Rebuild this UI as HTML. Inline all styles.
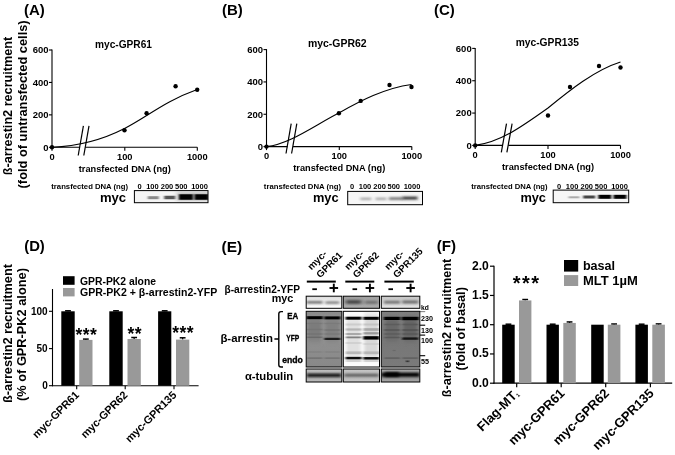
<!DOCTYPE html>
<html><head><meta charset="utf-8"><title>figure</title>
<style>
html,body{margin:0;padding:0;background:#fff;}
svg{display:block;font-family:"Liberation Sans",sans-serif;}
</style></head><body>
<svg width="675" height="455" viewBox="0 0 675 455">
<rect width="675" height="455" fill="#fff"/>
<defs><filter id="b1" x="-20%" y="-100%" width="140%" height="300%"><feGaussianBlur stdDeviation="0.9 0.55"/></filter>
<filter id="b2" x="-20%" y="-100%" width="140%" height="300%"><feGaussianBlur stdDeviation="1.5 0.6"/></filter>
<filter id="b3" x="-20%" y="-100%" width="140%" height="300%"><feGaussianBlur stdDeviation="2 1.2"/></filter>
<clipPath id="c1"><rect x="134.4" y="190.6" width="73.6" height="12.099999999999994"/></clipPath>
<clipPath id="c2"><rect x="347.7" y="191.4" width="74.80000000000001" height="13.299999999999983"/></clipPath>
<clipPath id="c3"><rect x="553.2" y="190.1" width="75.5" height="12.599999999999994"/></clipPath>
<filter id="b4" x="-20%" y="-150%" width="140%" height="400%"><feGaussianBlur stdDeviation="1.6 1.0"/></filter>
<filter id="b5" x="-30%" y="-30%" width="160%" height="160%"><feGaussianBlur stdDeviation="1.5 3"/></filter>
<linearGradient id="gm1" x1="0" y1="0" x2="0" y2="1"><stop offset="0" stop-color="#d8d8d8"/><stop offset="0.35" stop-color="#f0f0f0"/><stop offset="1" stop-color="#fbfbfb"/></linearGradient>
<clipPath id="c4"><rect x="306.2" y="296.2" width="35.60000000000002" height="12.100000000000023"/></clipPath>
<linearGradient id="gm2" x1="0" y1="0" x2="0" y2="1"><stop offset="0" stop-color="#9a9a9a"/><stop offset="0.5" stop-color="#b4b4b4"/><stop offset="1" stop-color="#a8a8a8"/></linearGradient>
<clipPath id="c5"><rect x="343.3" y="296.2" width="36.19999999999999" height="12.100000000000023"/></clipPath>
<linearGradient id="gm3" x1="0" y1="0" x2="0" y2="1"><stop offset="0" stop-color="#c4c4c4"/><stop offset="0.5" stop-color="#d6d6d6"/><stop offset="1" stop-color="#e6e6e6"/></linearGradient>
<clipPath id="c6"><rect x="381.3" y="296.2" width="38.5" height="12.100000000000023"/></clipPath>
<linearGradient id="ga1" x1="0" y1="0" x2="0" y2="1"><stop offset="0" stop-color="#8c8c8c"/><stop offset="0.5" stop-color="#909090"/><stop offset="1" stop-color="#888"/></linearGradient>
<clipPath id="c7"><rect x="306.2" y="311.3" width="35.60000000000002" height="55.69999999999999"/></clipPath>
<clipPath id="c8"><rect x="343.3" y="311.3" width="36.19999999999999" height="55.69999999999999"/></clipPath>
<linearGradient id="ga3" x1="0" y1="0" x2="0" y2="1"><stop offset="0" stop-color="#808080"/><stop offset="0.4" stop-color="#767676"/><stop offset="1" stop-color="#7a7a7a"/></linearGradient>
<clipPath id="c9"><rect x="381.3" y="311.3" width="38.5" height="55.69999999999999"/></clipPath>
<linearGradient id="gt1" x1="0" y1="0" x2="0" y2="1"><stop offset="0" stop-color="#c4c4c4"/><stop offset="0.5" stop-color="#a4a4a4"/><stop offset="1" stop-color="#bcbcbc"/></linearGradient>
<clipPath id="c10"><rect x="306.2" y="369" width="35.60000000000002" height="13"/></clipPath>
<linearGradient id="gt2" x1="0" y1="0" x2="0" y2="1"><stop offset="0" stop-color="#c8c8c8"/><stop offset="0.5" stop-color="#b8b8b8"/><stop offset="1" stop-color="#c4c4c4"/></linearGradient>
<clipPath id="c11"><rect x="343.3" y="369" width="36.19999999999999" height="13"/></clipPath>
<linearGradient id="gt3" x1="0" y1="0" x2="0" y2="1"><stop offset="0" stop-color="#b0b0b0"/><stop offset="0.5" stop-color="#8c8c8c"/><stop offset="1" stop-color="#a8a8a8"/></linearGradient>
<clipPath id="c12"><rect x="381.3" y="369" width="38.5" height="13"/></clipPath></defs>
<text x="12.3" y="106" font-size="12.7" text-anchor="middle" font-weight="bold" fill="#000" textLength="138.5" lengthAdjust="spacingAndGlyphs" transform="rotate(-90 12.3 106)" >ß-arrestin2 recruitment</text>
<text x="26.7" y="104.4" font-size="12.7" text-anchor="middle" font-weight="bold" fill="#000" textLength="168" lengthAdjust="spacingAndGlyphs" transform="rotate(-90 26.7 104.4)" >(fold of untransfected cells)</text>
<text x="24" y="14.7" font-size="15" text-anchor="start" font-weight="bold" fill="#000" textLength="20.8" lengthAdjust="spacingAndGlyphs" >(A)</text>
<text x="123.5" y="47.6" font-size="10.2" text-anchor="middle" font-weight="bold" fill="#000" textLength="57" lengthAdjust="spacingAndGlyphs" >myc-GPR61</text>
<line x1="52" y1="49.5" x2="52" y2="147.8" stroke="#000" stroke-width="1.1" />
<line x1="52" y1="147.3" x2="197.3" y2="147.3" stroke="#000" stroke-width="1.1" />
<line x1="49" y1="147.3" x2="52" y2="147.3" stroke="#000" stroke-width="1.1" />
<text x="48.5" y="150.70000000000002" font-size="9.5" text-anchor="end" font-weight="bold" fill="#000" >0</text>
<line x1="49" y1="114.86666666666667" x2="52" y2="114.86666666666667" stroke="#000" stroke-width="1.1" />
<text x="48.5" y="118.26666666666668" font-size="9.5" text-anchor="end" font-weight="bold" fill="#000" >200</text>
<line x1="49" y1="82.43333333333334" x2="52" y2="82.43333333333334" stroke="#000" stroke-width="1.1" />
<text x="48.5" y="85.83333333333334" font-size="9.5" text-anchor="end" font-weight="bold" fill="#000" >400</text>
<line x1="49" y1="50.0" x2="52" y2="50.0" stroke="#000" stroke-width="1.1" />
<text x="48.5" y="53.4" font-size="9.5" text-anchor="end" font-weight="bold" fill="#000" >600</text>
<line x1="52" y1="147.3" x2="52" y2="150.8" stroke="#000" stroke-width="1.1" />
<text x="52" y="160.10000000000002" font-size="9.3" text-anchor="middle" font-weight="bold" fill="#000" >0</text>
<line x1="124.8" y1="147.3" x2="124.8" y2="150.8" stroke="#000" stroke-width="1.1" />
<text x="124.8" y="160.10000000000002" font-size="9.3" text-anchor="middle" font-weight="bold" fill="#000" >100</text>
<line x1="197.3" y1="147.3" x2="197.3" y2="150.8" stroke="#000" stroke-width="1.1" />
<text x="197.3" y="160.10000000000002" font-size="9.3" text-anchor="middle" font-weight="bold" fill="#000" >1000</text>
<text x="124.8" y="171.9" font-size="9.2" text-anchor="middle" font-weight="bold" fill="#000" textLength="92" lengthAdjust="spacingAndGlyphs" >transfected DNA (ng)</text>
<rect x="79.7" y="145.3" width="5.5" height="4" fill="#fff" stroke="none" stroke-width="0" />
<line x1="78.2" y1="155.5" x2="83.4" y2="125.9" stroke="#000" stroke-width="1.2" />
<line x1="83.8" y1="155.5" x2="89.0" y2="125.9" stroke="#000" stroke-width="1.2" />
<path d="M52,147.3 C75,146.3 101.5,140.3 124.5,128.5 C147,117 165,101 197.2,89.5" stroke="#000" stroke-width="1.1" fill="none" />
<circle cx="52" cy="147.3" r="2.2" fill="#000"/>
<circle cx="124.5" cy="130.2" r="2.2" fill="#000"/>
<circle cx="146.6" cy="113.3" r="2.2" fill="#000"/>
<circle cx="175.6" cy="86.3" r="2.2" fill="#000"/>
<circle cx="197.2" cy="89.7" r="2.2" fill="#000"/>
<text x="221.9" y="14.7" font-size="15" text-anchor="start" font-weight="bold" fill="#000" textLength="20.8" lengthAdjust="spacingAndGlyphs" >(B)</text>
<text x="337.3" y="46.9" font-size="10.2" text-anchor="middle" font-weight="bold" fill="#000" textLength="58.7" lengthAdjust="spacingAndGlyphs" >myc-GPR62</text>
<line x1="266.5" y1="49.1" x2="266.5" y2="147.1" stroke="#000" stroke-width="1.1" />
<line x1="266.5" y1="146.6" x2="411.8" y2="146.6" stroke="#000" stroke-width="1.1" />
<line x1="263.5" y1="146.6" x2="266.5" y2="146.6" stroke="#000" stroke-width="1.1" />
<text x="263.0" y="150.0" font-size="9.5" text-anchor="end" font-weight="bold" fill="#000" >0</text>
<line x1="263.5" y1="114.26666666666665" x2="266.5" y2="114.26666666666665" stroke="#000" stroke-width="1.1" />
<text x="263.0" y="117.66666666666666" font-size="9.5" text-anchor="end" font-weight="bold" fill="#000" >200</text>
<line x1="263.5" y1="81.93333333333332" x2="266.5" y2="81.93333333333332" stroke="#000" stroke-width="1.1" />
<text x="263.0" y="85.33333333333333" font-size="9.5" text-anchor="end" font-weight="bold" fill="#000" >400</text>
<line x1="263.5" y1="49.599999999999994" x2="266.5" y2="49.599999999999994" stroke="#000" stroke-width="1.1" />
<text x="263.0" y="52.99999999999999" font-size="9.5" text-anchor="end" font-weight="bold" fill="#000" >600</text>
<line x1="266.5" y1="146.6" x2="266.5" y2="150.1" stroke="#000" stroke-width="1.1" />
<text x="266.5" y="159.4" font-size="9.3" text-anchor="middle" font-weight="bold" fill="#000" >0</text>
<line x1="339.3" y1="146.6" x2="339.3" y2="150.1" stroke="#000" stroke-width="1.1" />
<text x="339.3" y="159.4" font-size="9.3" text-anchor="middle" font-weight="bold" fill="#000" >100</text>
<line x1="411.8" y1="146.6" x2="411.8" y2="150.1" stroke="#000" stroke-width="1.1" />
<text x="411.8" y="159.4" font-size="9.3" text-anchor="middle" font-weight="bold" fill="#000" >1000</text>
<text x="339.3" y="171.2" font-size="9.2" text-anchor="middle" font-weight="bold" fill="#000" textLength="92" lengthAdjust="spacingAndGlyphs" >transfected DNA (ng)</text>
<rect x="287.5" y="144.6" width="5.5" height="4" fill="#fff" stroke="none" stroke-width="0" />
<line x1="286.0" y1="153.5" x2="291.2" y2="123.6" stroke="#000" stroke-width="1.2" />
<line x1="291.6" y1="153.5" x2="296.8" y2="123.6" stroke="#000" stroke-width="1.2" />
<path d="M266.5,146.6 C290,144 315,125 338.9,113 C360,101 385,88 411.5,84.5" stroke="#000" stroke-width="1.1" fill="none" />
<circle cx="266.5" cy="146.6" r="2.2" fill="#000"/>
<circle cx="338.9" cy="113.3" r="2.2" fill="#000"/>
<circle cx="360.7" cy="100.9" r="2.2" fill="#000"/>
<circle cx="389.5" cy="85" r="2.2" fill="#000"/>
<circle cx="411.5" cy="87" r="2.2" fill="#000"/>
<text x="434" y="14.7" font-size="15" text-anchor="start" font-weight="bold" fill="#000" textLength="20.8" lengthAdjust="spacingAndGlyphs" >(C)</text>
<text x="547.3" y="46.3" font-size="10.2" text-anchor="middle" font-weight="bold" fill="#000" textLength="63.3" lengthAdjust="spacingAndGlyphs" >myc-GPR135</text>
<line x1="475.2" y1="47.9" x2="475.2" y2="145.9" stroke="#000" stroke-width="1.1" />
<line x1="475.2" y1="145.4" x2="620.5" y2="145.4" stroke="#000" stroke-width="1.1" />
<line x1="472.2" y1="145.4" x2="475.2" y2="145.4" stroke="#000" stroke-width="1.1" />
<text x="471.7" y="148.8" font-size="9.5" text-anchor="end" font-weight="bold" fill="#000" >0</text>
<line x1="472.2" y1="113.06666666666666" x2="475.2" y2="113.06666666666666" stroke="#000" stroke-width="1.1" />
<text x="471.7" y="116.46666666666667" font-size="9.5" text-anchor="end" font-weight="bold" fill="#000" >200</text>
<line x1="472.2" y1="80.73333333333333" x2="475.2" y2="80.73333333333333" stroke="#000" stroke-width="1.1" />
<text x="471.7" y="84.13333333333334" font-size="9.5" text-anchor="end" font-weight="bold" fill="#000" >400</text>
<line x1="472.2" y1="48.400000000000006" x2="475.2" y2="48.400000000000006" stroke="#000" stroke-width="1.1" />
<text x="471.7" y="51.800000000000004" font-size="9.5" text-anchor="end" font-weight="bold" fill="#000" >600</text>
<line x1="475.2" y1="145.4" x2="475.2" y2="148.9" stroke="#000" stroke-width="1.1" />
<text x="475.2" y="158.20000000000002" font-size="9.3" text-anchor="middle" font-weight="bold" fill="#000" >0</text>
<line x1="548.0" y1="145.4" x2="548.0" y2="148.9" stroke="#000" stroke-width="1.1" />
<text x="548.0" y="158.20000000000002" font-size="9.3" text-anchor="middle" font-weight="bold" fill="#000" >100</text>
<line x1="620.5" y1="145.4" x2="620.5" y2="148.9" stroke="#000" stroke-width="1.1" />
<text x="620.5" y="158.20000000000002" font-size="9.3" text-anchor="middle" font-weight="bold" fill="#000" >1000</text>
<text x="548.0" y="170.0" font-size="9.2" text-anchor="middle" font-weight="bold" fill="#000" textLength="92" lengthAdjust="spacingAndGlyphs" >transfected DNA (ng)</text>
<rect x="502.8" y="143.4" width="5.5" height="4" fill="#fff" stroke="none" stroke-width="0" />
<line x1="501.3" y1="152.4" x2="506.5" y2="123.60000000000001" stroke="#000" stroke-width="1.2" />
<line x1="506.90000000000003" y1="152.4" x2="512.1" y2="123.60000000000001" stroke="#000" stroke-width="1.2" />
<path d="M475.2,145.4 C500,142 520,128 548,108 C570,90 595,70 620.5,62" stroke="#000" stroke-width="1.1" fill="none" />
<circle cx="475.2" cy="145.4" r="2.2" fill="#000"/>
<circle cx="548" cy="115.5" r="2.2" fill="#000"/>
<circle cx="570" cy="87" r="2.2" fill="#000"/>
<circle cx="599" cy="66" r="2.2" fill="#000"/>
<circle cx="620.5" cy="67.5" r="2.2" fill="#000"/>
<text x="51.3" y="189" font-size="7.7" text-anchor="start" font-weight="bold" fill="#000" textLength="76.8" lengthAdjust="spacingAndGlyphs" >transfected DNA (ng)</text>
<text x="139.5" y="189" font-size="7.5" text-anchor="middle" font-weight="bold" fill="#000" >0</text>
<text x="152.4" y="189" font-size="7.5" text-anchor="middle" font-weight="bold" fill="#000" >100</text>
<text x="167.0" y="189" font-size="7.5" text-anchor="middle" font-weight="bold" fill="#000" >200</text>
<text x="181.3" y="189" font-size="7.5" text-anchor="middle" font-weight="bold" fill="#000" >500</text>
<text x="199.5" y="189" font-size="7.5" text-anchor="middle" font-weight="bold" fill="#000" >1000</text>
<text x="99.9" y="201.5" font-size="13.1" text-anchor="start" font-weight="bold" fill="#000" textLength="26.2" lengthAdjust="spacingAndGlyphs" >myc</text>
<g clip-path="url(#c1)">
<rect x="134.4" y="190.6" width="73.6" height="12.099999999999994" fill="#f4f4f4" stroke="none" stroke-width="0" />

<rect x="177.00" y="192.00" width="32" height="9" fill="#aaa" opacity="0.7" filter="url(#b3)"/>
<rect x="147.80" y="196.20" width="11" height="3" fill="#888" opacity="1" filter="url(#b1)"/>
<rect x="164.20" y="195.75" width="11" height="3.5" fill="#555" opacity="1" filter="url(#b1)"/>
<rect x="179.00" y="194.25" width="14" height="5.5" fill="#000" opacity="1" filter="url(#b1)"/>
<rect x="194.50" y="194.25" width="14" height="5.5" fill="#000" opacity="1" filter="url(#b1)"/>
</g>
<rect x="134.4" y="190.6" width="73.6" height="12.099999999999994" fill="none" stroke="#000" stroke-width="1.0" />
<text x="263.8" y="189" font-size="7.7" text-anchor="start" font-weight="bold" fill="#000" textLength="77.3" lengthAdjust="spacingAndGlyphs" >transfected DNA (ng)</text>
<text x="352.1" y="189" font-size="7.5" text-anchor="middle" font-weight="bold" fill="#000" >0</text>
<text x="365.0" y="189" font-size="7.5" text-anchor="middle" font-weight="bold" fill="#000" >100</text>
<text x="379.6" y="189" font-size="7.5" text-anchor="middle" font-weight="bold" fill="#000" >200</text>
<text x="393.8" y="189" font-size="7.5" text-anchor="middle" font-weight="bold" fill="#000" >500</text>
<text x="412.0" y="189" font-size="7.5" text-anchor="middle" font-weight="bold" fill="#000" >1000</text>
<text x="312.9" y="201.5" font-size="13.1" text-anchor="start" font-weight="bold" fill="#000" textLength="25.7" lengthAdjust="spacingAndGlyphs" >myc</text>
<g clip-path="url(#c2)">
<rect x="347.7" y="191.4" width="74.80000000000001" height="13.299999999999983" fill="#f6f6f6" stroke="none" stroke-width="0" />

<rect x="360.30" y="197.80" width="11" height="2" fill="#999" opacity="1" filter="url(#b4)"/>
<rect x="375.50" y="197.80" width="11" height="2" fill="#999" opacity="1" filter="url(#b4)"/>
<rect x="389.00" y="197.40" width="14" height="2.4" fill="#666" opacity="1" filter="url(#b4)"/>
<rect x="402.50" y="196.70" width="15" height="2.8" fill="#2a2a2a" opacity="1" filter="url(#b4)"/>
</g>
<rect x="347.7" y="191.4" width="74.80000000000001" height="13.299999999999983" fill="none" stroke="#000" stroke-width="1.0" />
<text x="471.3" y="189" font-size="7.7" text-anchor="start" font-weight="bold" fill="#000" textLength="76.3" lengthAdjust="spacingAndGlyphs" >transfected DNA (ng)</text>
<text x="559.1" y="189" font-size="7.5" text-anchor="middle" font-weight="bold" fill="#000" >0</text>
<text x="572.1" y="189" font-size="7.5" text-anchor="middle" font-weight="bold" fill="#000" >100</text>
<text x="586.8" y="189" font-size="7.5" text-anchor="middle" font-weight="bold" fill="#000" >200</text>
<text x="601.1" y="189" font-size="7.5" text-anchor="middle" font-weight="bold" fill="#000" >500</text>
<text x="619.5" y="189" font-size="7.5" text-anchor="middle" font-weight="bold" fill="#000" >1000</text>
<text x="520.4" y="201.5" font-size="13.1" text-anchor="start" font-weight="bold" fill="#000" textLength="25.6" lengthAdjust="spacingAndGlyphs" >myc</text>
<g clip-path="url(#c3)">
<rect x="553.2" y="190.1" width="75.5" height="12.599999999999994" fill="#f6f6f6" stroke="none" stroke-width="0" />

<rect x="568.50" y="196.30" width="11" height="2" fill="#aaa" opacity="1" filter="url(#b1)"/>
<rect x="583.20" y="195.50" width="12" height="3" fill="#444" opacity="1" filter="url(#b1)"/>
<rect x="598.30" y="194.80" width="13" height="4" fill="#000" opacity="1" filter="url(#b1)"/>
<rect x="613.50" y="194.80" width="13" height="4" fill="#000" opacity="1" filter="url(#b1)"/>
</g>
<rect x="553.2" y="190.1" width="75.5" height="12.599999999999994" fill="none" stroke="#000" stroke-width="1.0" />
<text x="24.2" y="251.2" font-size="15" text-anchor="start" font-weight="bold" fill="#000" textLength="20.6" lengthAdjust="spacingAndGlyphs" >(D)</text>
<text x="12.2" y="333.6" font-size="12.7" text-anchor="middle" font-weight="bold" fill="#000" textLength="139" lengthAdjust="spacingAndGlyphs" transform="rotate(-90 12.2 333.6)" >ß-arrestin2 recruitment</text>
<text x="26.3" y="334.5" font-size="12.7" text-anchor="middle" font-weight="bold" fill="#000" textLength="132.8" lengthAdjust="spacingAndGlyphs" transform="rotate(-90 26.3 334.5)" >(% of GPR-PK2 alone)</text>
<line x1="52.5" y1="289" x2="52.5" y2="386.2" stroke="#000" stroke-width="1.1" />
<line x1="52.0" y1="385.7" x2="198.6" y2="385.7" stroke="#000" stroke-width="1.1" />
<line x1="49.0" y1="385.7" x2="52.5" y2="385.7" stroke="#000" stroke-width="1.1" />
<text x="47.7" y="389.3" font-size="10" text-anchor="end" font-weight="bold" fill="#000" >0</text>
<line x1="49.0" y1="348.6" x2="52.5" y2="348.6" stroke="#000" stroke-width="1.1" />
<text x="47.7" y="352.20000000000005" font-size="10" text-anchor="end" font-weight="bold" fill="#000" >50</text>
<line x1="49.0" y1="311.3" x2="52.5" y2="311.3" stroke="#000" stroke-width="1.1" />
<text x="47.7" y="314.90000000000003" font-size="10" text-anchor="end" font-weight="bold" fill="#000" >100</text>
<line x1="68.0" y1="310.8" x2="68.0" y2="311.3" stroke="#000" stroke-width="1.2" />
<line x1="65.1" y1="310.8" x2="70.9" y2="310.8" stroke="#000" stroke-width="1.5" />
<rect x="61.3" y="311.3" width="13.4" height="74.4" fill="#000" stroke="none" stroke-width="0" />
<line x1="85.85" y1="339.09999999999997" x2="85.85" y2="339.9" stroke="#000" stroke-width="1.2" />
<line x1="82.94999999999999" y1="339.09999999999997" x2="88.75" y2="339.09999999999997" stroke="#000" stroke-width="1.5" />
<rect x="79.2" y="339.9" width="13.3" height="45.8" fill="#999" stroke="none" stroke-width="0" />
<text x="86.35" y="341" font-size="17.5" text-anchor="middle" font-weight="bold" fill="#000" letter-spacing="0.4">***</text>
<line x1="116.0" y1="310.8" x2="116.0" y2="311.3" stroke="#000" stroke-width="1.2" />
<line x1="113.1" y1="310.8" x2="118.9" y2="310.8" stroke="#000" stroke-width="1.5" />
<rect x="109.3" y="311.3" width="13.4" height="74.4" fill="#000" stroke="none" stroke-width="0" />
<line x1="134.15" y1="337.5" x2="134.15" y2="339.0" stroke="#000" stroke-width="1.2" />
<line x1="131.25" y1="337.5" x2="137.05" y2="337.5" stroke="#000" stroke-width="1.5" />
<rect x="127.5" y="339.0" width="13.3" height="46.7" fill="#999" stroke="none" stroke-width="0" />
<text x="134.65" y="340.2" font-size="17.5" text-anchor="middle" font-weight="bold" fill="#000" letter-spacing="0.4">**</text>
<line x1="164.7" y1="310.8" x2="164.7" y2="311.3" stroke="#000" stroke-width="1.2" />
<line x1="161.79999999999998" y1="310.8" x2="167.6" y2="310.8" stroke="#000" stroke-width="1.5" />
<rect x="158.1" y="311.3" width="13.2" height="74.4" fill="#000" stroke="none" stroke-width="0" />
<line x1="182.65" y1="337.8" x2="182.65" y2="339.6" stroke="#000" stroke-width="1.2" />
<line x1="179.75" y1="337.8" x2="185.55" y2="337.8" stroke="#000" stroke-width="1.5" />
<rect x="176" y="339.6" width="13.3" height="46.1" fill="#999" stroke="none" stroke-width="0" />
<text x="183.15" y="339.4" font-size="17.5" text-anchor="middle" font-weight="bold" fill="#000" letter-spacing="0.4">***</text>
<line x1="76.7" y1="385.7" x2="76.7" y2="389.2" stroke="#000" stroke-width="1.1" />
<text x="79.9" y="395.59999999999997" font-size="10.9" text-anchor="end" font-weight="bold" fill="#000" transform="rotate(-45 79.9 395.59999999999997)" >myc-GPR61</text>
<line x1="125.2" y1="385.7" x2="125.2" y2="389.2" stroke="#000" stroke-width="1.1" />
<text x="128.4" y="395.59999999999997" font-size="10.9" text-anchor="end" font-weight="bold" fill="#000" transform="rotate(-45 128.4 395.59999999999997)" >myc-GPR62</text>
<line x1="174" y1="385.7" x2="174" y2="389.2" stroke="#000" stroke-width="1.1" />
<text x="177.2" y="395.59999999999997" font-size="10.9" text-anchor="end" font-weight="bold" fill="#000" transform="rotate(-45 177.2 395.59999999999997)" >myc-GPR135</text>
<rect x="63" y="276.2" width="11.6" height="8.6" fill="#000" stroke="none" stroke-width="0" />
<rect x="63" y="288" width="11.6" height="8.4" fill="#999" stroke="none" stroke-width="0" />
<text x="80" y="284.8" font-size="10.4" text-anchor="start" font-weight="bold" fill="#000" textLength="76" lengthAdjust="spacingAndGlyphs" >GPR-PK2 alone</text>
<text x="80" y="295.6" font-size="10.4" text-anchor="start" font-weight="bold" fill="#000" textLength="137.3" lengthAdjust="spacingAndGlyphs" >GPR-PK2 + β-arrestin2-YFP</text>
<text x="436.7" y="251" font-size="15" text-anchor="start" font-weight="bold" fill="#000" textLength="19.3" lengthAdjust="spacingAndGlyphs" >(F)</text>
<text x="450.8" y="328" font-size="12.7" text-anchor="middle" font-weight="bold" fill="#000" textLength="138.4" lengthAdjust="spacingAndGlyphs" transform="rotate(-90 450.8 328)" >ß-arrestin2 recruitment</text>
<text x="464.6" y="328.8" font-size="12.7" text-anchor="middle" font-weight="bold" fill="#000" textLength="83.4" lengthAdjust="spacingAndGlyphs" transform="rotate(-90 464.6 328.8)" >(fold of basal)</text>
<line x1="494" y1="265.7" x2="494" y2="383.7" stroke="#000" stroke-width="1.2" />
<line x1="493.5" y1="383.2" x2="672.2" y2="383.2" stroke="#000" stroke-width="1.2" />
<line x1="490" y1="383.2" x2="494" y2="383.2" stroke="#000" stroke-width="1.2" />
<text x="488.8" y="386.7" font-size="12.1" text-anchor="end" font-weight="bold" fill="#000" >0.0</text>
<line x1="490" y1="353.95" x2="494" y2="353.95" stroke="#000" stroke-width="1.2" />
<text x="488.8" y="357.45" font-size="12.1" text-anchor="end" font-weight="bold" fill="#000" >0.5</text>
<line x1="490" y1="324.7" x2="494" y2="324.7" stroke="#000" stroke-width="1.2" />
<text x="488.8" y="328.2" font-size="12.1" text-anchor="end" font-weight="bold" fill="#000" >1.0</text>
<line x1="490" y1="295.45" x2="494" y2="295.45" stroke="#000" stroke-width="1.2" />
<text x="488.8" y="298.95" font-size="12.1" text-anchor="end" font-weight="bold" fill="#000" >1.5</text>
<line x1="490" y1="266.2" x2="494" y2="266.2" stroke="#000" stroke-width="1.2" />
<text x="488.8" y="269.7" font-size="12.1" text-anchor="end" font-weight="bold" fill="#000" >2.0</text>
<line x1="508.45000000000005" y1="324.2" x2="508.45000000000005" y2="324.7" stroke="#000" stroke-width="1.2" />
<line x1="505.55000000000007" y1="324.2" x2="511.35" y2="324.2" stroke="#000" stroke-width="1.5" />
<rect x="502.2" y="324.7" width="12.5" height="58.5" fill="#000" stroke="none" stroke-width="0" />
<line x1="525.2" y1="299.52000000000004" x2="525.2" y2="300.42" stroke="#000" stroke-width="1.2" />
<line x1="522.3000000000001" y1="299.52000000000004" x2="528.1" y2="299.52000000000004" stroke="#000" stroke-width="1.5" />
<rect x="519" y="300.42" width="12.4" height="82.78" fill="#999" stroke="none" stroke-width="0" />
<line x1="552.7" y1="324.2" x2="552.7" y2="324.7" stroke="#000" stroke-width="1.2" />
<line x1="549.8000000000001" y1="324.2" x2="555.6" y2="324.2" stroke="#000" stroke-width="1.5" />
<rect x="546.5" y="324.7" width="12.4" height="58.5" fill="#000" stroke="none" stroke-width="0" />
<line x1="569.55" y1="321.94" x2="569.55" y2="322.94" stroke="#000" stroke-width="1.2" />
<line x1="566.65" y1="321.94" x2="572.4499999999999" y2="321.94" stroke="#000" stroke-width="1.5" />
<rect x="563.3" y="322.94" width="12.5" height="60.26" fill="#999" stroke="none" stroke-width="0" />
<rect x="591.2" y="324.7" width="12.5" height="58.5" fill="#000" stroke="none" stroke-width="0" />
<line x1="614.0999999999999" y1="324.0" x2="614.0999999999999" y2="324.7" stroke="#000" stroke-width="1.2" />
<line x1="611.1999999999999" y1="324.0" x2="616.9999999999999" y2="324.0" stroke="#000" stroke-width="1.5" />
<rect x="607.8" y="324.7" width="12.6" height="58.5" fill="#999" stroke="none" stroke-width="0" />
<line x1="641.65" y1="324.2" x2="641.65" y2="324.7" stroke="#000" stroke-width="1.2" />
<line x1="638.75" y1="324.2" x2="644.55" y2="324.2" stroke="#000" stroke-width="1.5" />
<rect x="635.4" y="324.7" width="12.5" height="58.5" fill="#000" stroke="none" stroke-width="0" />
<line x1="658.5999999999999" y1="323.9" x2="658.5999999999999" y2="324.7" stroke="#000" stroke-width="1.2" />
<line x1="655.6999999999999" y1="323.9" x2="661.4999999999999" y2="323.9" stroke="#000" stroke-width="1.5" />
<rect x="652.3" y="324.7" width="12.6" height="58.5" fill="#999" stroke="none" stroke-width="0" />
<text x="526.6" y="290.1" font-size="20" text-anchor="middle" font-weight="bold" fill="#000" letter-spacing="1.5">***</text>
<line x1="516.7" y1="383.2" x2="516.7" y2="387.2" stroke="#000" stroke-width="1.2" />
<text x="519.7" y="394.5" font-size="13" text-anchor="end" font-weight="bold" fill="#000" transform="rotate(-45 519.7 394.5)" >Flag-MT<tspan font-size="5.5" dy="1.2">1</tspan></text>
<line x1="561.2" y1="383.2" x2="561.2" y2="387.2" stroke="#000" stroke-width="1.2" />
<text x="565.4000000000001" y="394.09999999999997" font-size="13" text-anchor="end" font-weight="bold" fill="#000" transform="rotate(-45 565.4000000000001 394.09999999999997)" >myc-GPR61</text>
<line x1="605.7" y1="383.2" x2="605.7" y2="387.2" stroke="#000" stroke-width="1.2" />
<text x="609.9000000000001" y="394.09999999999997" font-size="13" text-anchor="end" font-weight="bold" fill="#000" transform="rotate(-45 609.9000000000001 394.09999999999997)" >myc-GPR62</text>
<line x1="650.4" y1="383.2" x2="650.4" y2="387.2" stroke="#000" stroke-width="1.2" />
<text x="654.6" y="394.09999999999997" font-size="13" text-anchor="end" font-weight="bold" fill="#000" transform="rotate(-45 654.6 394.09999999999997)" >myc-GPR135</text>
<rect x="564" y="260" width="14.2" height="11.6" fill="#000" stroke="none" stroke-width="0" />
<rect x="564" y="275.1" width="14.2" height="10.9" fill="#999" stroke="none" stroke-width="0" />
<text x="582.9" y="270" font-size="12.8" text-anchor="start" font-weight="bold" fill="#000" textLength="32.2" lengthAdjust="spacingAndGlyphs" >basal</text>
<text x="582.9" y="285.1" font-size="12.8" text-anchor="start" font-weight="bold" fill="#000" textLength="54.9" lengthAdjust="spacingAndGlyphs" >MLT 1µM</text>
<text x="221.5" y="251.5" font-size="15" text-anchor="start" font-weight="bold" fill="#000" textLength="20.6" lengthAdjust="spacingAndGlyphs" >(E)</text>
<text x="224.5" y="293" font-size="10" text-anchor="start" font-weight="bold" fill="#000" textLength="75.6" lengthAdjust="spacingAndGlyphs" >β-arrestin2-YFP</text>
<text x="271.7" y="302.3" font-size="10.8" text-anchor="start" font-weight="bold" fill="#000" textLength="21.7" lengthAdjust="spacingAndGlyphs" >myc</text>
<text x="220.4" y="342.4" font-size="11.3" text-anchor="start" font-weight="bold" fill="#000" textLength="52.6" lengthAdjust="spacingAndGlyphs" >β-arrestin</text>
<text x="244.9" y="380.4" font-size="11.3" text-anchor="start" font-weight="bold" fill="#000" textLength="48.4" lengthAdjust="spacingAndGlyphs" >α-tubulin</text>
<path d="M283,311.6 H281 Q278.8,311.6 278.8,313.8 V364.8 Q278.8,367 281,367 H283 M278.8,339 H274.4" stroke="#000" stroke-width="1.4" fill="none" />
<text x="287.2" y="318.8" font-size="9.2" text-anchor="start" font-weight="bold" fill="#000" textLength="11" lengthAdjust="spacingAndGlyphs" stroke="#000" stroke-width="0.35">EA</text>
<text x="286.3" y="340.7" font-size="9" text-anchor="start" font-weight="bold" fill="#000" textLength="13" lengthAdjust="spacingAndGlyphs" stroke="#000" stroke-width="0.35">YFP</text>
<text x="282.2" y="362.9" font-size="9.2" text-anchor="start" font-weight="bold" fill="#000" textLength="20.7" lengthAdjust="spacingAndGlyphs" stroke="#000" stroke-width="0.35">endo</text>
<line x1="306.8" y1="281.6" x2="335.8" y2="281.6" stroke="#000" stroke-width="2" />
<line x1="312.3" y1="289.2" x2="316.90000000000003" y2="289.2" stroke="#000" stroke-width="1.8" />
<line x1="329.5" y1="288" x2="338.1" y2="288" stroke="#000" stroke-width="1.9" />
<line x1="333.8" y1="283.7" x2="333.8" y2="292.3" stroke="#000" stroke-width="1.9" />
<text x="311.40000000000003" y="270.6" font-size="9.8" text-anchor="start" font-weight="bold" fill="#000" transform="rotate(-45 311.40000000000003 270.6)" >myc-</text>
<text x="320.3" y="278.5" font-size="9.8" text-anchor="start" font-weight="bold" fill="#000" transform="rotate(-45 320.3 278.5)" >GPR61</text>
<line x1="345.3" y1="281.6" x2="374.3" y2="281.6" stroke="#000" stroke-width="2" />
<line x1="352.5" y1="289.2" x2="357.1" y2="289.2" stroke="#000" stroke-width="1.8" />
<line x1="365.59999999999997" y1="288" x2="374.2" y2="288" stroke="#000" stroke-width="1.9" />
<line x1="369.9" y1="283.7" x2="369.9" y2="292.3" stroke="#000" stroke-width="1.9" />
<text x="348.40000000000003" y="270.6" font-size="9.8" text-anchor="start" font-weight="bold" fill="#000" transform="rotate(-45 348.40000000000003 270.6)" >myc-</text>
<text x="356.8" y="278.5" font-size="9.8" text-anchor="start" font-weight="bold" fill="#000" transform="rotate(-45 356.8 278.5)" >GPR62</text>
<line x1="384.4" y1="281.6" x2="413.8" y2="281.6" stroke="#000" stroke-width="2" />
<line x1="388.4" y1="289.2" x2="393.0" y2="289.2" stroke="#000" stroke-width="1.8" />
<line x1="406.3" y1="288" x2="414.90000000000003" y2="288" stroke="#000" stroke-width="1.9" />
<line x1="410.6" y1="283.7" x2="410.6" y2="292.3" stroke="#000" stroke-width="1.9" />
<text x="388.5" y="270.6" font-size="9.8" text-anchor="start" font-weight="bold" fill="#000" transform="rotate(-45 388.5 270.6)" >myc-</text>
<text x="396.9" y="278.5" font-size="9.8" text-anchor="start" font-weight="bold" fill="#000" transform="rotate(-45 396.9 278.5)" >GPR135</text>
<text x="421" y="309.5" font-size="7" text-anchor="start" font-weight="bold" fill="#000" textLength="7.8" lengthAdjust="spacingAndGlyphs" >kd</text>
<line x1="419.8" y1="311.6" x2="425.2" y2="311.6" stroke="#888" stroke-width="1.1" />
<text x="421" y="321.2" font-size="7.1" text-anchor="start" font-weight="bold" fill="#000" textLength="12" lengthAdjust="spacingAndGlyphs" >230</text>
<line x1="419.8" y1="325.2" x2="425.2" y2="325.2" stroke="#000" stroke-width="1.1" />
<text x="421" y="332.7" font-size="7.1" text-anchor="start" font-weight="bold" fill="#000" textLength="12" lengthAdjust="spacingAndGlyphs" >130</text>
<line x1="419.8" y1="335.1" x2="425.2" y2="335.1" stroke="#000" stroke-width="1.1" />
<text x="421" y="342.7" font-size="7.1" text-anchor="start" font-weight="bold" fill="#000" textLength="12" lengthAdjust="spacingAndGlyphs" >100</text>
<line x1="419.8" y1="355.7" x2="425.2" y2="355.7" stroke="#000" stroke-width="1.1" />
<text x="421" y="363.6" font-size="7.1" text-anchor="start" font-weight="bold" fill="#000" textLength="8" lengthAdjust="spacingAndGlyphs" >55</text>
<g clip-path="url(#c4)">
<rect x="306.2" y="296.2" width="35.60000000000002" height="12.100000000000023" fill="url(#gm1)" stroke="none" stroke-width="0" />

<rect x="306.60" y="301.00" width="16" height="2.6" fill="#6a6a6a" opacity="1" filter="url(#b4)"/>
<rect x="325.30" y="301.40" width="14" height="2.4" fill="#777" opacity="1" filter="url(#b4)"/>
</g>
<rect x="306.2" y="296.2" width="35.60000000000002" height="12.100000000000023" fill="none" stroke="#000" stroke-width="1.0" />
<g clip-path="url(#c5)">
<rect x="343.3" y="296.2" width="36.19999999999999" height="12.100000000000023" fill="url(#gm2)" stroke="none" stroke-width="0" />

<rect x="345.60" y="299.90" width="16" height="4.2" fill="#4a4a4a" opacity="1" filter="url(#b3)"/>
<rect x="364.30" y="300.50" width="14" height="3.6" fill="#707070" opacity="1" filter="url(#b3)"/>
</g>
<rect x="343.3" y="296.2" width="36.19999999999999" height="12.100000000000023" fill="none" stroke="#000" stroke-width="1.0" />
<g clip-path="url(#c6)">
<rect x="381.3" y="296.2" width="38.5" height="12.100000000000023" fill="url(#gm3)" stroke="none" stroke-width="0" />

<rect x="384.10" y="300.80" width="16" height="2.8" fill="#6a6a6a" opacity="1" filter="url(#b4)"/>
<rect x="402.20" y="300.50" width="16" height="3" fill="#666" opacity="1" filter="url(#b4)"/>
</g>
<rect x="381.3" y="296.2" width="38.5" height="12.100000000000023" fill="none" stroke="#000" stroke-width="1.0" />
<g clip-path="url(#c7)">
<rect x="306.2" y="311.3" width="35.60000000000002" height="55.69999999999999" fill="url(#ga1)" stroke="none" stroke-width="0" />

<rect x="308.10" y="319.00" width="13" height="22" fill="#7c7c7c" opacity="1" filter="url(#b5)"/>
<rect x="325.80" y="319.00" width="13" height="22" fill="#808080" opacity="1" filter="url(#b5)"/>
<rect x="306.35" y="316.20" width="16.5" height="3" fill="#000" opacity="1" filter="url(#b1)"/>
<rect x="324.30" y="316.40" width="16" height="3" fill="#000" opacity="1" filter="url(#b1)"/>
<rect x="306.85" y="322.80" width="15.5" height="1.4" fill="#787878" opacity="1" filter="url(#b1)"/>
<rect x="324.55" y="322.80" width="15.5" height="1.4" fill="#7a7a7a" opacity="1" filter="url(#b1)"/>
<rect x="306.85" y="328.75" width="15.5" height="1.5" fill="#747474" opacity="1" filter="url(#b1)"/>
<rect x="324.55" y="329.25" width="15.5" height="1.5" fill="#747474" opacity="1" filter="url(#b1)"/>
<rect x="306.85" y="333.25" width="15.5" height="1.5" fill="#747474" opacity="1" filter="url(#b1)"/>
<rect x="324.55" y="333.25" width="15.5" height="1.5" fill="#787878" opacity="1" filter="url(#b1)"/>
<rect x="306.85" y="336.55" width="15.5" height="1.5" fill="#6a6a6a" opacity="1" filter="url(#b1)"/>
<rect x="324.30" y="337.80" width="16" height="2.2" fill="#1c1c1c" opacity="1" filter="url(#b1)"/>
<rect x="306.85" y="351.40" width="15.5" height="1.2" fill="#808080" opacity="1" filter="url(#b1)"/>
<rect x="324.55" y="351.40" width="15.5" height="1.2" fill="#808080" opacity="1" filter="url(#b1)"/>
<rect x="306.85" y="357.35" width="15.5" height="1.5" fill="#707070" opacity="1" filter="url(#b1)"/>
<rect x="324.55" y="357.35" width="15.5" height="1.5" fill="#727272" opacity="1" filter="url(#b1)"/>
</g>
<rect x="306.2" y="311.3" width="35.60000000000002" height="55.69999999999999" fill="none" stroke="#000" stroke-width="1.0" />
<g clip-path="url(#c8)">
<rect x="343.3" y="311.3" width="36.19999999999999" height="55.69999999999999" fill="#fcfcfc" stroke="none" stroke-width="0" />

<rect x="346.60" y="318.00" width="14" height="40" fill="#e0e0e0" opacity="1" filter="url(#b5)"/>
<rect x="364.30" y="314.00" width="14" height="44" fill="#d8d8d8" opacity="1" filter="url(#b5)"/>
<rect x="345.60" y="316.70" width="16" height="3" fill="#000" opacity="1" filter="url(#b1)"/>
<rect x="363.30" y="316.80" width="16" height="3" fill="#000" opacity="1" filter="url(#b1)"/>
<rect x="345.85" y="323.50" width="15.5" height="2" fill="#ccc" opacity="1" filter="url(#b1)"/>
<rect x="363.55" y="323.50" width="15.5" height="2" fill="#c4c4c4" opacity="1" filter="url(#b1)"/>
<rect x="345.85" y="328.40" width="15.5" height="2.2" fill="#b4b4b4" opacity="1" filter="url(#b1)"/>
<rect x="363.55" y="328.20" width="15.5" height="2.6" fill="#a8a8a8" opacity="1" filter="url(#b1)"/>
<rect x="345.85" y="333.00" width="15.5" height="2" fill="#a8a8a8" opacity="1" filter="url(#b1)"/>
<rect x="363.55" y="332.20" width="15.5" height="2.2" fill="#9a9a9a" opacity="1" filter="url(#b1)"/>
<rect x="345.85" y="336.50" width="15.5" height="1.8" fill="#808080" opacity="1" filter="url(#b1)"/>
<rect x="363.30" y="336.20" width="16" height="3.4" fill="#000" opacity="1" filter="url(#b1)"/>
<rect x="345.85" y="342.25" width="15.5" height="1.5" fill="#ccc" opacity="1" filter="url(#b1)"/>
<rect x="363.55" y="343.25" width="15.5" height="1.5" fill="#ccc" opacity="1" filter="url(#b1)"/>
<rect x="345.85" y="351.40" width="15.5" height="2.8" fill="#b8b8b8" opacity="1" filter="url(#b1)"/>
<rect x="363.55" y="351.40" width="15.5" height="2.8" fill="#b8b8b8" opacity="1" filter="url(#b1)"/>
<rect x="345.60" y="356.85" width="16" height="2.5" fill="#0a0a0a" opacity="1" filter="url(#b1)"/>
<rect x="363.30" y="357.05" width="16" height="2.5" fill="#0a0a0a" opacity="1" filter="url(#b1)"/>
<rect x="345.85" y="360.40" width="15.5" height="1.2" fill="#bbb" opacity="1" filter="url(#b1)"/>
<rect x="363.55" y="360.40" width="15.5" height="1.2" fill="#bbb" opacity="1" filter="url(#b1)"/>
</g>
<rect x="343.3" y="311.3" width="36.19999999999999" height="55.69999999999999" fill="none" stroke="#000" stroke-width="1.0" />
<g clip-path="url(#c9)">
<rect x="381.3" y="311.3" width="38.5" height="55.69999999999999" fill="url(#ga3)" stroke="none" stroke-width="0" />

<rect x="385.60" y="318.00" width="13" height="22" fill="#686868" opacity="1" filter="url(#b5)"/>
<rect x="403.70" y="318.00" width="13" height="22" fill="#646464" opacity="1" filter="url(#b5)"/>
<rect x="383.85" y="316.80" width="16.5" height="3.2" fill="#000" opacity="1" filter="url(#b1)"/>
<rect x="401.70" y="316.80" width="17" height="3.4" fill="#000" opacity="1" filter="url(#b1)"/>
<rect x="384.35" y="323.70" width="15.5" height="1.6" fill="#5c5c5c" opacity="1" filter="url(#b1)"/>
<rect x="402.45" y="323.70" width="15.5" height="1.6" fill="#585858" opacity="1" filter="url(#b1)"/>
<rect x="384.35" y="329.10" width="15.5" height="1.8" fill="#585858" opacity="1" filter="url(#b1)"/>
<rect x="402.45" y="329.10" width="15.5" height="1.8" fill="#545454" opacity="1" filter="url(#b1)"/>
<rect x="384.35" y="333.20" width="15.5" height="1.6" fill="#5c5c5c" opacity="1" filter="url(#b1)"/>
<rect x="402.45" y="333.20" width="15.5" height="1.6" fill="#585858" opacity="1" filter="url(#b1)"/>
<rect x="384.35" y="336.75" width="15.5" height="1.5" fill="#585858" opacity="1" filter="url(#b1)"/>
<rect x="402.20" y="337.40" width="16" height="2.4" fill="#161616" opacity="1" filter="url(#b1)"/>
<rect x="384.35" y="357.40" width="15.5" height="1.4" fill="#5c5c5c" opacity="1" filter="url(#b1)"/>
<rect x="402.45" y="357.40" width="15.5" height="1.4" fill="#5c5c5c" opacity="1" filter="url(#b1)"/>
<rect x="406.19" y="360.50" width="2.6" height="1.6" fill="#1a1a1a" opacity="1" filter="url(#b1)"/>
<rect x="393.27" y="349.90" width="2" height="1.2" fill="#606060" opacity="1" filter="url(#b1)"/>
</g>
<rect x="381.3" y="311.3" width="38.5" height="55.69999999999999" fill="none" stroke="#000" stroke-width="1.0" />
<g clip-path="url(#c10)">
<rect x="306.2" y="369" width="35.60000000000002" height="13" fill="url(#gt1)" stroke="none" stroke-width="0" />

<rect x="307.00" y="373.70" width="34" height="3.2" fill="#111" opacity="1" filter="url(#b4)"/>
</g>
<rect x="306.2" y="369" width="35.60000000000002" height="13" fill="none" stroke="#000" stroke-width="1.0" />
<g clip-path="url(#c11)">
<rect x="343.3" y="369" width="36.19999999999999" height="13" fill="url(#gt2)" stroke="none" stroke-width="0" />

<rect x="344.50" y="373.80" width="34" height="2.8" fill="#5a5a5a" opacity="1" filter="url(#b4)"/>
</g>
<rect x="343.3" y="369" width="36.19999999999999" height="13" fill="none" stroke="#000" stroke-width="1.0" />
<g clip-path="url(#c12)">
<rect x="381.3" y="369" width="38.5" height="13" fill="url(#gt3)" stroke="none" stroke-width="0" />

<rect x="381.50" y="372.70" width="38" height="4" fill="#000" opacity="1" filter="url(#b4)"/>
<rect x="385.00" y="372.25" width="14" height="4.5" fill="#000" opacity="1" filter="url(#b4)"/>
</g>
<rect x="381.3" y="369" width="38.5" height="13" fill="none" stroke="#000" stroke-width="1.0" />
</svg>
</body></html>
